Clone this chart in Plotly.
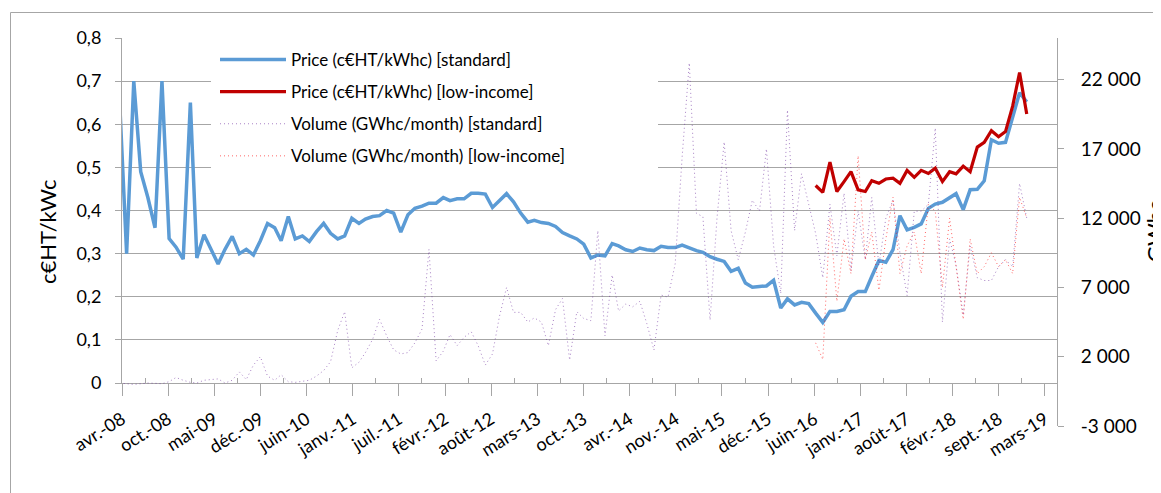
import plotly.graph_objects as go
import pandas as pd

# ---------------- data ----------------
months = pd.date_range("2008-04-01", periods=130, freq="MS")

price_standard = [
    0.65, 0.30, 0.70, 0.49, 0.43, 0.36, 0.70, 0.335, 0.315, 0.287,
    0.65, 0.29, 0.344, 0.31, 0.276, 0.31, 0.34, 0.30, 0.31, 0.297,
    0.33, 0.37, 0.36, 0.33, 0.386, 0.334, 0.341, 0.328, 0.351, 0.37,
    0.347, 0.334, 0.341, 0.382, 0.37, 0.38, 0.386, 0.388, 0.40, 0.394,
    0.35, 0.39, 0.405, 0.41, 0.417, 0.417, 0.43, 0.423, 0.427, 0.427,
    0.44, 0.44, 0.438, 0.407, 0.423, 0.439, 0.42, 0.394, 0.373, 0.377,
    0.372, 0.37, 0.363, 0.349, 0.341, 0.334, 0.322, 0.29, 0.297, 0.295,
    0.323, 0.318, 0.309, 0.305, 0.313, 0.309, 0.307, 0.317, 0.314, 0.314,
    0.32, 0.313, 0.307, 0.303, 0.293, 0.287, 0.282, 0.259, 0.266, 0.232,
    0.222, 0.224, 0.225, 0.238, 0.174, 0.195, 0.181, 0.187, 0.184, 0.162,
    0.1405, 0.166, 0.166, 0.170, 0.201, 0.212, 0.212, 0.247, 0.284, 0.280,
    0.309, 0.388, 0.355, 0.361, 0.369, 0.405, 0.415, 0.419, 0.429, 0.439,
    0.402, 0.448, 0.449, 0.469, 0.564, 0.556, 0.558, 0.614, 0.673, 0.652,
]

low_income_months = months[99:]
price_low_income = [
    0.458, 0.442, 0.512, 0.444, 0.467, 0.490, 0.448, 0.444, 0.469, 0.463,
    0.473, 0.475, 0.463, 0.493, 0.477, 0.493, 0.486, 0.498, 0.467, 0.490,
    0.485, 0.503, 0.490, 0.547, 0.558, 0.585, 0.571, 0.583, 0.642, 0.720,
    0.624,
]

volume_standard = [
    100, 50, 0, 50, 100, 80, 50, 200, 500, 300,
    150, 100, 300, 350, 400, 100, 300, 900, 350, 1400,
    2000, 600, 300, 700, 200, 150, 200, 300, 600, 1000,
    1640, 3900, 5250, 1200, 1600, 2300, 3250, 4700, 3500, 2500,
    2200, 2300, 3000, 4000, 9750, 1700, 2400, 3600, 2800, 3400,
    3800, 2800, 1400, 2200, 4900, 7000, 5200, 5200, 4500, 4800,
    4500, 2800, 5400, 6200, 1760, 5250, 4760, 4600, 11100, 3500,
    7900, 5300, 5800, 5600, 6000, 4400, 2480, 6450, 6300, 8700,
    16400, 23200, 12350, 12100, 4650, 12000, 17500, 11100, 9000, 11000,
    13300, 12500, 17000, 10000, 6570, 19800, 11100, 15200, 13000, 10900,
    7700, 13000, 9300, 13800, 8200, 12500, 9000, 13500, 8600, 12000,
    13300, 9500, 6400, 12500, 12500, 13000, 18500, 4500, 10500, 8600,
    5000, 10000, 7700, 7500, 7500, 8500, 9000, 8500, 14500, 12000,
]

volume_low_income = [
    3000, 1800, 12000, 6000, 10500, 8000, 16500, 9000, 11000, 6800,
    10500, 13500, 8000, 10000, 11000, 8000, 13000, 12500, 7000, 12000,
    8500, 4700, 10500, 8000, 8500, 9500, 8500, 9000, 8000, 13500,
    12000,
]

x_tick_labels = ["avr.-08", "oct.-08", "mai-09", "déc.-09", "juin-10", "janv.-11",
                 "juil.-11", "févr.-12", "août-12", "mars-13", "oct.-13", "avr.-14",
                 "nov.-14", "mai-15", "déc.-15", "juin-16", "janv.-17", "août-17",
                 "févr.-18", "sept.-18", "mars-19"]
y_tick_values = [0, 0.1, 0.2, 0.3, 0.4, 0.5, 0.6, 0.7, 0.8]
y_tick_labels = ["0", "0,1", "0,2", "0,3", "0,4", "0,5", "0,6", "0,7", "0,8"]
y2_tick_values = [-3000, 2000, 7000, 12000, 17000, 22000]
y2_tick_labels = ["-3 000", "2 000", "7 000", "12 000", "17 000", "22 000"]

# ---------------- axis geometry ----------------
x_start = pd.Timestamp("2008-04-11")
x_end = pd.Timestamp("2019-05-12")
step = pd.Timedelta(days=199.8)
x_tick_vals = [x_start + i * step for i in range(len(x_tick_labels))]
x_minor_vals = [x_start + (i + 0.5) * step for i in range(len(x_tick_labels))]

# page geometry (the html body adds an 8px offset)
OFF = 8
PAGE_W, PAGE_H = 1161, 493
W, H = PAGE_W - OFF, PAGE_H - OFF
L, R, T, B = 122, 1057, 38, 426          # plot area in page pixels
pw, ph = R - L, B - T
def px_x(p):
    return (p - L) / pw
def px_y(p):
    return (B - p) / ph

GRID = "#A6A6A6"
FONT = "Lato"

fig = go.Figure()
fig.add_trace(go.Scatter(x=months, y=price_standard, mode="lines",
                         name="Price (c€HT/kWhc) [standard]", legendgroup="a",
                         line=dict(color="#5B9BD5", width=3.5), yaxis="y"))
fig.add_trace(go.Scatter(x=low_income_months, y=price_low_income, mode="lines",
                         name="Price (c€HT/kWhc) [low-income]", legendgroup="b",
                         line=dict(color="#C00000", width=3.2), yaxis="y"))
fig.add_trace(go.Scatter(x=months, y=volume_standard, mode="lines",
                         name="Volume (GWhc/month) [standard]", legendgroup="c",
                         line=dict(color="#7030A0", width=1, dash="1px,3px"),
                         opacity=0.6, yaxis="y2"))
fig.add_trace(go.Scatter(x=low_income_months, y=volume_low_income, mode="lines",
                         name="Volume (GWhc/month) [low-income]", legendgroup="d",
                         line=dict(color="#FF0000", width=1, dash="1px,3px"),
                         opacity=0.6, yaxis="y2"))

fig.update_layout(
    width=W, height=H,
    margin=dict(l=L - OFF, r=PAGE_W - R, t=T - OFF, b=PAGE_H - B, pad=0,
                autoexpand=False),
    paper_bgcolor="white", plot_bgcolor="rgba(0,0,0,0)",
    font=dict(family=FONT, size=18, color="#000000"),
    showlegend=True,
    legend=dict(x=px_x(215), y=px_y(42), xanchor="left", yanchor="top",
                bgcolor="white", font=dict(size=17, color="#000000"),
                tracegroupgap=7, itemwidth=66),
    xaxis=dict(type="date", range=[x_start, x_end], anchor="y", automargin=False,
               tickmode="array", tickvals=x_tick_vals, ticktext=x_tick_labels,
               tickangle=-32, ticks="outside", ticklen=12, tickcolor=GRID,
               tickwidth=1, showline=True, linecolor=GRID, linewidth=1,
               showgrid=False, zeroline=False, ticklabelstandoff=6,
               tickfont=dict(size=18),
               minor=dict(tickvals=x_minor_vals, ticks="inside", ticklen=5,
                          tickcolor=GRID, tickwidth=1, showgrid=False)),
    yaxis=dict(range=[0, 0.8], domain=[px_y(383), 1], anchor="x", automargin=False,
               tickmode="array", tickvals=y_tick_values, ticktext=y_tick_labels,
               ticks="outside", ticklen=6, tickcolor=GRID, showline=True,
               linecolor=GRID, linewidth=1, showgrid=True, gridcolor=GRID,
               gridwidth=1, zeroline=False, ticklabelstandoff=10,
               tickfont=dict(size=18)),
    yaxis2=dict(range=[-3000, 25000], domain=[0, 1], anchor="x", side="right",
                automargin=False,
                tickmode="array", tickvals=y2_tick_values, ticktext=y2_tick_labels,
                ticks="outside", ticklen=6, tickcolor=GRID, showline=True,
                linecolor=GRID, linewidth=1, showgrid=False, zeroline=False,
                ticklabelstandoff=13, tickfont=dict(size=19)),
    annotations=[
        dict(text="c€HT/kWc", x=px_x(47), y=px_y(232), xref="paper", yref="paper",
             textangle=-90, showarrow=False, xanchor="center", yanchor="middle",
             font=dict(size=22, color="#000000")),
        dict(text="GWhc", x=px_x(1154), y=px_y(232), xref="paper", yref="paper",
             textangle=-90, showarrow=False, xanchor="center", yanchor="middle",
             font=dict(size=22, color="#000000")),
    ],
    shapes=[
        dict(type="rect", xref="paper", yref="paper",
             x0=px_x(10.5), x1=px_x(1400), y0=px_y(700), y1=px_y(12.5),
             line=dict(color=GRID, width=1), fillcolor="rgba(0,0,0,0)", layer="below"),
        # white legend box hiding the gridlines behind the legend (as in the reference)
        dict(type="rect", xref="paper", yref="paper",
             x0=px_x(211), x1=px_x(658), y0=px_y(190), y1=px_y(40),
             line=dict(width=0), fillcolor="white", layer="above"),
    ],
)

fig.write_html("out.html")
